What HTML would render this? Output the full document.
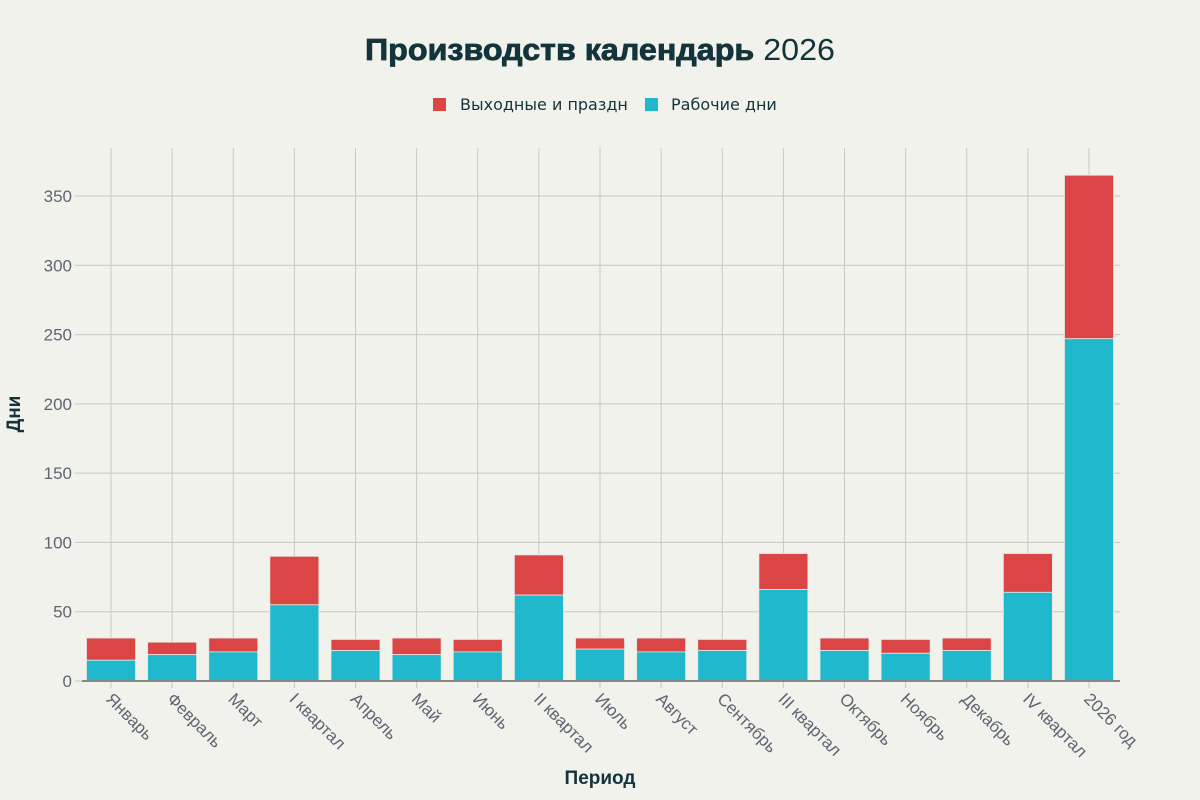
<!DOCTYPE html>
<html><head><meta charset="utf-8"><style>
body{margin:0;background:#f2f2ed;}
svg{display:block;font-family:"Liberation Sans","DejaVu Sans",sans-serif;}
</style></head><body>
<svg width="1200" height="800" viewBox="0 0 1200 800">
<rect width="1200" height="800" fill="#f2f2ed"/>
<text x="600" y="60" text-anchor="middle" font-size="31" fill="#13343b" textLength="470" lengthAdjust="spacingAndGlyphs"><tspan font-weight="bold" stroke="#13343b" stroke-width="0.8">Производств календарь</tspan> 2026</text>
<rect x="433" y="98" width="13" height="13" fill="#db4545"/>
<text x="460" y="110" font-size="16" fill="#13343b" font-family="DejaVu Sans,sans-serif">Выходные и праздн</text>
<rect x="645" y="98" width="13" height="13" fill="#1fb8cd"/>
<text x="671" y="110" font-size="16" fill="#13343b" font-family="DejaVu Sans,sans-serif">Рабочие дни</text>
<g id="grid" stroke="#c8c8c0" stroke-width="1"></g>
<g id="bars"></g>
<line x1="82" y1="681" x2="1120" y2="681" stroke="#888" stroke-width="2"/>
<g id="labels" font-size="17" fill="#5d6670"></g>
<text x="600" y="784" text-anchor="middle" font-size="19" font-weight="bold" fill="#13343b">Период</text>
<text transform="translate(20,414) rotate(-90)" text-anchor="middle" font-size="19" font-weight="bold" fill="#13343b">Дни</text>
</svg>
<script>
const ns="http://www.w3.org/2000/svg";
function el(p,t,a,txt){const e=document.createElementNS(ns,t);for(const k in a)e.setAttribute(k,a[k]);if(txt!==undefined)e.textContent=txt;document.getElementById(p).appendChild(e);}
const Y=v=>681-v*1.3857;
const d=[["Январь",31,15],["Февраль",28,19],["Март",31,21],["I квартал",90,55],["Апрель",30,22],["Май",31,19],["Июнь",30,21],["II квартал",91,62],["Июль",31,23],["Август",31,21],["Сентябрь",30,22],["III квартал",92,66],["Октябрь",31,22],["Ноябрь",30,20],["Декабрь",31,22],["IV квартал",92,64],["2026 год",365,247]];
for(let v=0;v<=350;v+=50){el("grid","line",{x1:75,x2:1120,y1:Y(v),y2:Y(v)});el("labels","text",{x:72,y:Y(v)+6,"text-anchor":"end"},String(v));}
d.forEach((r,i)=>{const c=111+i*61.125;
el("grid","line",{x1:c,x2:c,y1:148,y2:688});
el("bars","rect",{x:c-24.5,y:Y(r[1]),width:49,height:(r[1]-r[2])*1.3857,fill:"#db4545",stroke:"#e8e8e2","stroke-width":0.8});
el("bars","rect",{x:c-24.5,y:Y(r[2]),width:49,height:r[2]*1.3857,fill:"#1fb8cd",stroke:"#e8e8e2","stroke-width":0.8});
el("labels","text",{transform:`translate(${c-6},${700}) rotate(45)`},r[0]);});
</script>
</body></html>
